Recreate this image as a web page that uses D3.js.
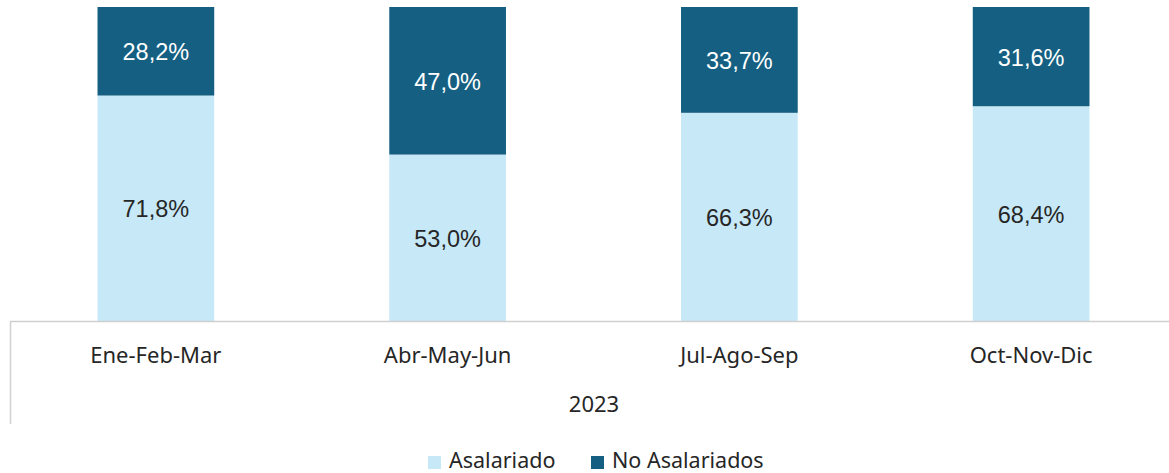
<!DOCTYPE html>
<html>
<head>
<meta charset="utf-8">
<title>Asalariados 2023</title>
<script src="https://cdn.jsdelivr.net/npm/d3@7"></script>
<style>
  body { margin: 0; background: #fff; }
  svg { display: block; }
</style>
</head>
<body>
<div id="chart"></div>
<script>
// data
var categories = ["Ene-Feb-Mar", "Abr-May-Jun", "Jul-Ago-Sep", "Oct-Nov-Dic"];
var yearLabel = "2023";
var asalariado = [71.8, 53.0, 66.3, 68.4];
var noAsalariados = [28.2, 47.0, 33.7, 31.6];
var seriesNames = ["Asalariado", "No Asalariados"];
var seriesColors = ["#c6e8f7", "#155f82"];
var labelColors = ["#262626", "#ffffff"];

var W = 1169, H = 473;
var plot = {left: 10, right: 1177, top: 7, bottom: 321};

var svg = d3.select("#chart").append("svg")
  .attr("width", W).attr("height", H);

var rows = categories.map(function(c, i) {
  return {cat: c, "Asalariado": asalariado[i], "No Asalariados": noAsalariados[i]};
});
var stacked = d3.stack().keys(seriesNames)(rows);

var x = d3.scaleBand().domain(categories).range([plot.left, plot.right]).paddingInner(0.6).paddingOuter(0.3);
var y = d3.scaleLinear().domain([0, 100]).range([plot.bottom, plot.top]);
var color = d3.scaleOrdinal().domain(seriesNames).range(seriesColors);

var fmt = function(v) { return v.toFixed(1).replace(".", ",") + "%"; };

// bars
var groups = svg.append("g").selectAll("g")
  .data(stacked)
  .enter().append("g")
    .attr("fill", function(d) { return color(d.key); });

groups.selectAll("rect")
  .data(function(d) { return d; })
  .enter().append("rect")
    .attr("x", function(d) { return x(d.data.cat); })
    .attr("y", function(d) { return y(d[1]); })
    .attr("width", x.bandwidth())
    .attr("height", function(d) { return y(d[0]) - y(d[1]); });

// data labels
stacked.forEach(function(s, si) {
  svg.append("g").selectAll("text")
    .data(s)
    .enter().append("text")
      .attr("x", function(d) { return x(d.data.cat) + x.bandwidth() / 2; })
      .attr("y", function(d) { return (y(d[0]) + y(d[1])) / 2 + 1; })
      .attr("dy", "0.35em")
      .attr("text-anchor", "middle")
      .attr("font-family", "Liberation Sans, Arial, sans-serif")
      .attr("font-size", 23.5)
      .attr("fill", labelColors[si])
      .text(function(d) { return fmt(d[1] - d[0]); });
});

// x axis (multi-level)
var axisColor = "#d0d0d0";
svg.append("line")
  .attr("x1", plot.left).attr("x2", W)
  .attr("y1", plot.bottom + 0.5).attr("y2", plot.bottom + 0.5)
  .attr("stroke", axisColor).attr("stroke-width", 1.5);
svg.append("line")
  .attr("x1", plot.left + 0.5).attr("x2", plot.left + 0.5)
  .attr("y1", plot.bottom).attr("y2", 424)
  .attr("stroke", axisColor).attr("stroke-width", 1.5);

svg.append("g").selectAll("text")
  .data(categories)
  .enter().append("text")
    .attr("x", function(d) { return x(d) + x.bandwidth() / 2; })
    .attr("y", 363)
    .attr("text-anchor", "middle")
    .attr("font-family", "Noto Sans, sans-serif")
    .attr("font-size", 22)
    .attr("fill", "#262626")
    .text(function(d) { return d; });

svg.append("text")
  .attr("x", 594)
  .attr("y", 412)
  .attr("text-anchor", "middle")
  .attr("font-family", "Noto Sans, sans-serif")
  .attr("font-size", 22)
  .attr("fill", "#262626")
  .text(yearLabel);

// legend
var legendX = [428, 591];
var legend = svg.append("g").selectAll("g")
  .data(seriesNames)
  .enter().append("g")
    .attr("transform", function(d, i) { return "translate(" + legendX[i] + ",456)"; });
legend.append("rect")
  .attr("width", 13).attr("height", 13)
  .attr("fill", function(d) { return color(d); });
legend.append("text")
  .attr("x", 21).attr("y", 12)
  .attr("font-family", "Noto Sans, sans-serif")
  .attr("font-size", 21.5)
  .attr("fill", "#262626")
  .text(function(d) { return d; });
</script>
</body>
</html>
